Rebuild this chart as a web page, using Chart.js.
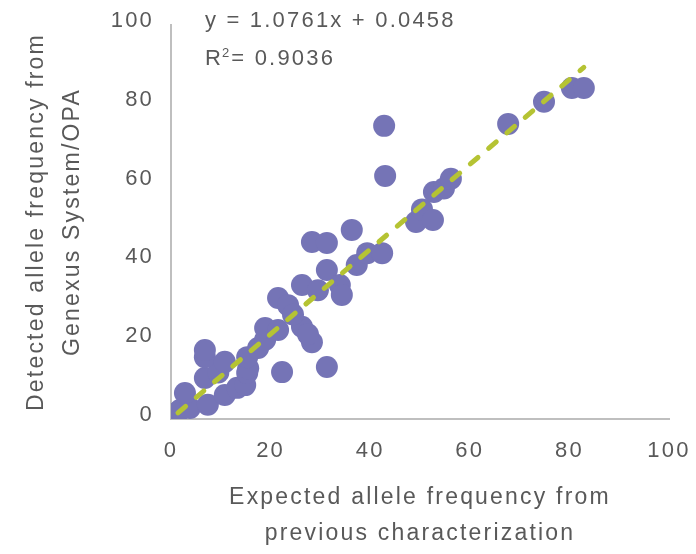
<!DOCTYPE html>
<html>
<head>
<meta charset="utf-8">
<script src="https://cdn.jsdelivr.net/npm/chart.js@4/dist/chart.umd.min.js"></script>
<style>
  html, body { margin: 0; padding: 0; background: #fff; }
  #wrap { width: 696px; height: 554px; }
</style>
</head>
<body>
<div id="wrap"><canvas id="chart" width="696" height="554"></canvas></div>
<script>
const expectedAF = [
  1.4, 1.8, 3.8, 2.8, 7.4, 10.8, 13.3, 14.9, 6.8, 9.5,
  6.8, 6.8, 10.8, 15.3, 15.5, 15.3, 17.5, 18.9, 18.9, 21.5,
  22.3, 21.5, 23.5, 26.3, 28.3, 27.5, 24.5, 26.3, 29.5, 31.3,
  31.3, 33.9, 34.3, 28.3, 31.3, 36.3, 37.3, 39.4, 42.4, 42.8,
  43.0, 49.2, 50.4, 52.6, 52.8, 54.8, 56.2, 67.7, 74.9, 80.5,
  82.9
];
const detectedAF = [
  1.8, 2.3, 2.8, 6.6, 3.6, 6.1, 7.9, 8.6, 10.4, 11.8,
  15.7, 17.5, 14.5, 11.7, 12.9, 15.7, 18.0, 20.1, 23.1, 22.6,
  11.9, 30.7, 28.9, 23.4, 19.5, 21.5, 26.5, 34.0, 32.7, 37.8,
  13.2, 34.0, 31.5, 44.9, 44.7, 48.0, 39.1, 42.1, 42.1, 74.4,
  61.7, 50.0, 53.2, 50.5, 57.6, 58.5, 61.0, 74.9, 80.5, 84.0,
  84.0
];
const trendX = [1.4, 82.9];
const trendY = [1.55, 89.25];
const equationText = 'y = 1.0761x + 0.0458';
const r2Value = '0.9036';
const xTitle = ['Expected allele frequency from', 'previous characterization'];
const yTitle = ['Detected allele frequency from', 'Genexus System/OPA'];

const FONT = '"Liberation Sans", Arial, Helvetica, sans-serif';
const TEXT_COLOR = '#595959';
const AXIS_COLOR = '#bfbfbf';

const spacingPlugin = {
  id: 'spacing',
  beforeDraw: (chart) => {
    chart.ctx.letterSpacing = '2.2px';
  }
};

const equationPlugin = {
  id: 'equation',
  afterDraw: (chart) => {
    const ctx = chart.ctx;
    const x0 = chart.chartArea.left + 34;
    ctx.save();
    ctx.letterSpacing = '2.2px';
    ctx.fillStyle = TEXT_COLOR;
    ctx.textBaseline = 'alphabetic';
    ctx.textAlign = 'left';
    ctx.font = '22px ' + FONT;
    ctx.fillText(equationText, x0, 27);
    ctx.fillText('R', x0, 65);
    let x = x0 + ctx.measureText('R').width;
    ctx.font = '13px ' + FONT;
    ctx.letterSpacing = '0px';
    ctx.fillText('2', x - 1, 57);
    x += ctx.measureText('2').width + 1;
    ctx.letterSpacing = '2.2px';
    ctx.font = '22px ' + FONT;
    ctx.fillText('= ' + r2Value, x, 65);
    ctx.restore();
  }
};

const points = expectedAF.map((x, i) => ({x, y: detectedAF[i]}));
const trend = trendX.map((x, i) => ({x, y: trendY[i]}));

new Chart(document.getElementById('chart').getContext('2d'), {
  type: 'scatter',
  data: {
    datasets: [
      {
        label: 'Linear',
        data: trend,
        showLine: true,
        borderColor: '#b5c333',
        borderWidth: 5,
        borderDash: [10, 14],
        borderCapStyle: 'round',
        pointRadius: 0,
        order: 0
      },
      {
        label: 'Allele frequency',
        data: points,
        backgroundColor: '#7574b6',
        borderWidth: 0,
        pointRadius: 11,
        order: 1
      }
    ]
  },
  options: {
    responsive: false,
    animation: false,
    layout: {
      autoPadding: false,
      padding: {left: 0, right: 27, top: 25, bottom: 0}
    },
    plugins: {
      legend: {display: false},
      tooltip: {enabled: false}
    },
    scales: {
      x: {
        type: 'linear',
        min: 0,
        max: 100,
        grid: {display: false, drawTicks: false},
        border: {color: AXIS_COLOR, width: 2},
        ticks: {
          stepSize: 20,
          padding: 19,
          color: TEXT_COLOR,
          font: {family: FONT, size: 22}
        },
        title: {
          display: true,
          text: xTitle,
          color: TEXT_COLOR,
          font: {family: FONT, size: 23, lineHeight: 1.55},
          padding: {top: 0, bottom: 3}
        },
        afterFit: (scale) => {
          scale.height = 135;
          scale.paddingLeft = 0;
          scale.paddingRight = 0;
        }
      },
      y: {
        type: 'linear',
        min: 0,
        max: 100,
        grid: {display: false, drawTicks: false},
        border: {color: AXIS_COLOR, width: 2},
        ticks: {
          stepSize: 20,
          padding: 17,
          labelOffset: -4,
          color: TEXT_COLOR,
          font: {family: FONT, size: 22}
        },
        title: {
          display: true,
          text: yTitle,
          color: TEXT_COLOR,
          font: {family: FONT, size: 23, lineHeight: 1.55},
          padding: {top: 19, bottom: 0}
        },
        afterFit: (scale) => {
          scale.width = 171;
          scale.paddingTop = 0;
          scale.paddingBottom = 0;
        }
      }
    }
  },
  plugins: [spacingPlugin, equationPlugin]
});
</script>
</body>
</html>
